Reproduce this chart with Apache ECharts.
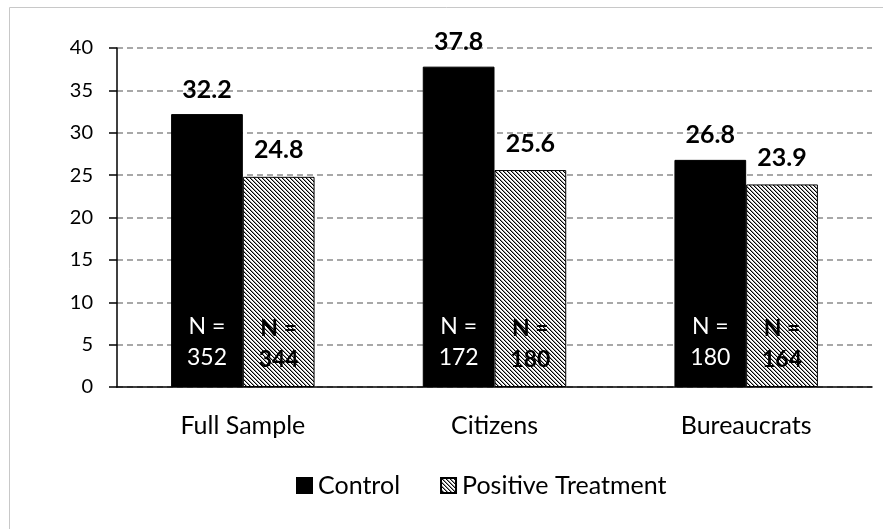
<!DOCTYPE html>
<html style="height: 100%">

<head>
  <meta charset="utf-8">
  <title>Control vs Positive Treatment</title>
</head>

<body style="height: 100%; margin: 0; background: #fff">
  <div id="container" style="width: 883px; height: 529px"></div>
  <script type="text/javascript" src="https://cdn.jsdelivr.net/npm/echarts@6/dist/echarts.min.js"></script>
  <script type="text/javascript">
    var categories = ['Full Sample', 'Citizens', 'Bureaucrats'];
    var control = [32.2, 37.8, 26.8];
    var treatment = [24.8, 25.6, 23.9];
    var controlN = [352, 172, 180];
    var treatmentN = [344, 180, 164];

    var FONT = 'Lato';

    // crisp "\" hatch for the treatment bars, drawn pixel by pixel
    var hatch = document.createElement('canvas');
    hatch.width = 4;
    hatch.height = 4;
    var ctx = hatch.getContext('2d');
    ctx.fillStyle = '#fff';
    ctx.fillRect(0, 0, 4, 4);
    for (var y = 0; y < 4; y++) {
      for (var x = 0; x < 4; x++) {
        var d = ((x - y) % 4 + 4) % 4;
        if (d === 0) {
          ctx.fillStyle = '#000';
          ctx.fillRect(x, y, 1, 1);
        } else if (d === 1) {
          ctx.fillStyle = '#9a9a9a';
          ctx.fillRect(x, y, 1, 1);
        }
      }
    }
    var hatchFill = { image: hatch, repeat: 'repeat' };

    var dom = document.getElementById("container");
    var myChart = echarts.init(dom);

    var option = {
      animation: false,
      backgroundColor: '#fff',
      textStyle: { fontFamily: FONT },
      graphic: [{
        type: 'rect',
        shape: { x: 9.5, y: 7.5, width: 900, height: 600 },
        style: { fill: 'none', stroke: '#c8c8c8', lineWidth: 1 },
        silent: true
      }],
      grid: { left: 117, right: 11, top: 48, bottom: 142 },
      legend: {
        left: 291,
        top: 468,
        itemWidth: 15,
        itemHeight: 15,
        itemGap: 40,
        icon: 'rect',
        textStyle: { fontFamily: FONT, fontSize: 25, color: '#000', padding: [0, 0, 0, 1] },
        data: ['Control', 'Positive Treatment']
      },
      xAxis: [{
        type: 'category',
        data: categories,
        axisLine: { lineStyle: { color: '#000', width: 1.5 } },
        axisTick: { length: 8, lineStyle: { color: '#000', width: 2 } },
        axisLabel: { fontSize: 25, color: '#000', margin: 26, fontFamily: FONT }
      }, {
        type: 'category',
        data: categories,
        show: false
      }],
      yAxis: {
        type: 'value',
        min: 0,
        max: 40,
        interval: 5,
        axisLine: { show: true, lineStyle: { color: '#000', width: 1.5 } },
        axisTick: { show: true, length: 8, lineStyle: { color: '#000', width: 1.5 } },
        axisLabel: { fontSize: 20, color: '#000', margin: 24, fontFamily: FONT },
        splitLine: { lineStyle: { color: '#8c8c8c', type: [6, 4], width: 1.5 } }
      },
      series: [{
        name: 'Control',
        type: 'bar',
        data: control,
        barGap: 0,
        barCategoryGap: '43%',
        itemStyle: { color: '#000', borderColor: '#000', borderWidth: 1 },
        label: {
          show: true,
          position: 'top',
          distance: 12,
          fontSize: 25,
          fontWeight: 'bold',
          color: '#000',
          fontFamily: FONT
        }
      }, {
        name: 'Positive Treatment',
        type: 'bar',
        data: treatment,
        barGap: 0,
        barCategoryGap: '43%',
        itemStyle: { color: hatchFill, borderColor: '#000', borderWidth: 1 },
        label: {
          show: true,
          position: 'top',
          distance: 14,
          fontSize: 25,
          fontWeight: 'bold',
          color: '#000',
          fontFamily: FONT
        }
      }, {
        name: 'controlN',
        type: 'bar',
        xAxisIndex: 1,
        data: control,
        barGap: 0,
        barCategoryGap: '43%',
        silent: true,
        itemStyle: { color: 'rgba(0,0,0,0)' },
        label: {
          show: true,
          position: 'insideBottom',
          distance: 14,
          fontSize: 23,
          lineHeight: 31,
          color: '#fff',
          fontFamily: FONT,
          formatter: function (p) { return 'N =\n' + controlN[p.dataIndex]; }
        }
      }, {
        name: 'treatmentN',
        type: 'bar',
        xAxisIndex: 1,
        data: treatment,
        barGap: 0,
        barCategoryGap: '43%',
        silent: true,
        itemStyle: { color: 'rgba(0,0,0,0)' },
        label: {
          show: true,
          position: 'insideBottom',
          distance: 12,
          fontSize: 23,
          lineHeight: 31,
          fontWeight: 'bold',
          color: '#000',
          fontFamily: FONT,
          formatter: function (p) { return 'N =\n' + treatmentN[p.dataIndex]; }
        }
      }]
    };

    myChart.setOption(option, true);
  </script>
</body>

</html>
